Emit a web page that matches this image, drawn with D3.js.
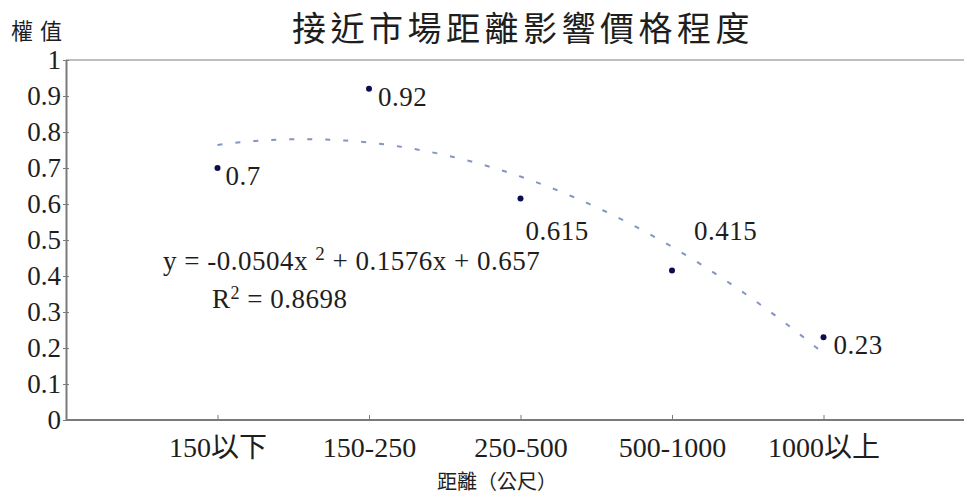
<!DOCTYPE html>
<html>
<head>
<meta charset="utf-8">
<script src="https://cdn.jsdelivr.net/npm/d3@7"></script>
<style>
  html, body { margin: 0; padding: 0; background: #fff; }
  svg { display: block; }
  text { fill: #1e1e1e; }
</style>
</head>
<body>
<svg id="chart" width="964" height="495"></svg>
<script>
// Distance bands from the market and their weight values
const categories = ["150以下", "150-250", "250-500", "500-1000", "1000以上"];
const weights = [0.7, 0.92, 0.615, 0.415, 0.23];
const valueLabels = ["0.7", "0.92", "0.615", "0.415", "0.23"];
const yTicks = [0, 0.1, 0.2, 0.3, 0.4, 0.5, 0.6, 0.7, 0.8, 0.9, 1];
// Quadratic trend coefficients (a, b, c) for y = a x^2 + b x + c, x = 1..n
const trendCoef = [-0.0504, 0.1576, 0.657];
const rSquared = "0.8698";

const svg = d3.select("#chart");
const serif = "'Liberation Serif', 'Noto Sans CJK TC', serif";
const cjk = "'Noto Sans CJK TC', 'Noto Sans CJK SC', sans-serif";

const plotLeft = 66, plotRight = 975, plotTop = 60, plotBottom = 420;

const x = d3.scalePoint().domain(categories).range([plotLeft, plotRight]).padding(1);
const xIdx = d3.scaleLinear().domain([0, categories.length + 1]).range([plotLeft, plotRight]);
const y = d3.scaleLinear().domain([0, 1]).range([plotBottom, plotTop]);

// Frame: top line
svg.append("line")
  .attr("x1", plotLeft).attr("x2", 964).attr("y1", plotTop).attr("y2", plotTop)
  .attr("stroke", "#a8a8a8").attr("stroke-width", 1.5);

// Y axis
const yAxis = svg.append("g").attr("transform", `translate(${plotLeft},0)`)
  .call(d3.axisLeft(y).tickValues(yTicks).tickFormat(d3.format("~g")).tickSizeInner(-4).tickSizeOuter(0).tickPadding(4));
yAxis.select(".domain").attr("stroke", "#7a7a7a").attr("stroke-width", 2);
yAxis.selectAll(".tick line").attr("stroke", "#7a7a7a").attr("x1", -3).attr("x2", 3);
yAxis.selectAll(".tick text")
  .attr("font-family", serif).attr("font-size", 27).attr("fill", "#1e1e1e")
  .attr("x", -5).attr("dy", "0.33em");

// X axis
const xAxis = svg.append("g").attr("transform", `translate(0,${plotBottom})`)
  .call(d3.axisBottom(x).tickSizeInner(-5).tickSizeOuter(0).tickPadding(0));
xAxis.select(".domain").attr("d", `M${plotLeft},0H964`).attr("stroke", "#7a7a7a").attr("stroke-width", 2);
xAxis.selectAll(".tick line").attr("stroke", "#7a7a7a");
xAxis.selectAll(".tick text")
  .attr("font-family", serif).attr("font-size", 28).attr("fill", "#1e1e1e")
  .attr("y", 37).attr("dy", 0);

// Polynomial trend line (dashed)
const trendPts = d3.range(1, categories.length + 0.001, 0.05).map(t => [t, trendCoef[0] * t * t + trendCoef[1] * t + trendCoef[2]]);
svg.append("path")
  .datum(trendPts)
  .attr("d", d3.line().x(d => xIdx(d[0])).y(d => y(d[1])))
  .attr("fill", "none")
  .attr("stroke", "#8494c4")
  .attr("stroke-width", 2)
  .attr("stroke-dasharray", "5,13");

// Data points
svg.append("g").selectAll("circle")
  .data(weights)
  .join("circle")
  .attr("cx", (d, i) => x(categories[i]))
  .attr("cy", d => y(d))
  .attr("r", 3)
  .attr("fill", "#0c0c52");

// Value labels (offsets per point)
const labelOffsets = [[8, 17], [9, 17], [5, 41], [22, -31], [10, 17]];
svg.append("g").selectAll("text")
  .data(weights)
  .join("text")
  .attr("x", (d, i) => x(categories[i]) + labelOffsets[i][0])
  .attr("y", (d, i) => y(d) + labelOffsets[i][1])
  .attr("font-family", serif).attr("font-size", 27)
  .attr("letter-spacing", 0.5)
  .text((d, i) => valueLabels[i]);

// Trend equation and R squared
const eq = svg.append("text")
  .attr("x", 163).attr("y", 270)
  .attr("font-family", serif).attr("font-size", 27)
  .attr("letter-spacing", 0.5);
eq.append("tspan").text(`y = ${trendCoef[0]}x `);
eq.append("tspan").attr("font-size", 19).attr("dy", -10).text("2");
eq.append("tspan").attr("dy", 10).text(` + ${trendCoef[1]}x + ${trendCoef[2]}`);

const r2 = svg.append("text")
  .attr("x", 212).attr("y", 308)
  .attr("font-family", serif).attr("font-size", 27)
  .attr("letter-spacing", 0.5);
r2.append("tspan").text("R");
r2.append("tspan").attr("font-size", 18).attr("dy", -9).text("2");
r2.append("tspan").attr("dy", 9).text(` = ${rSquared}`);

// Title
svg.append("text")
  .attr("x", 523).attr("y", 41)
  .attr("text-anchor", "middle")
  .attr("font-family", cjk).attr("font-size", 34)
  .attr("letter-spacing", 4.5)
  .text("接近市場距離影響價格程度");

// Y axis title
svg.append("text")
  .attr("x", 11).attr("y", 39)
  .attr("font-family", cjk).attr("font-size", 22)
  .attr("letter-spacing", 7)
  .text("權值");

// X axis title
svg.append("text")
  .attr("x", 497).attr("y", 489)
  .attr("text-anchor", "middle")
  .attr("font-family", cjk).attr("font-size", 20)
  .text("距離（公尺）");
</script>
</body>
</html>
